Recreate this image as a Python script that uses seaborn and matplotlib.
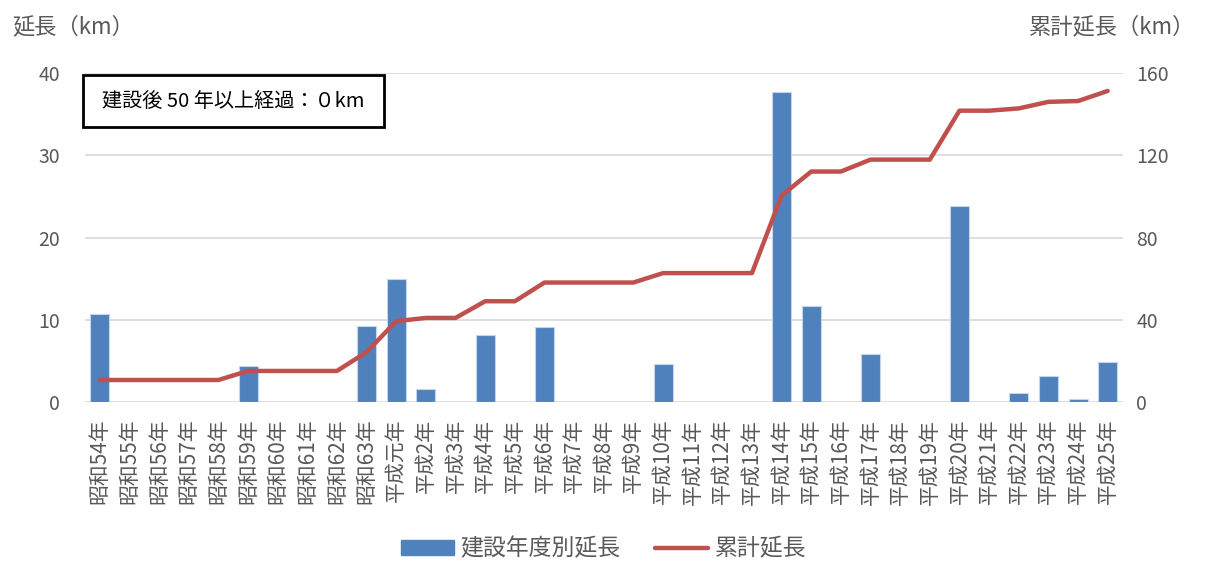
import matplotlib
matplotlib.use('Agg')
import matplotlib.pyplot as plt
import seaborn as sns
import pandas as pd
import numpy as np
from matplotlib.patches import Patch, Rectangle
from matplotlib.lines import Line2D

# categories
years = ['昭和54年', '昭和55年', '昭和56年', '昭和57年', '昭和58年', '昭和59年', '昭和60年',
         '昭和61年', '昭和62年', '昭和63年', '平成元年'] + ['平成%d年' % i for i in range(2, 26)]

# yearly length (km)
yearly = [10.7, 0, 0, 0, 0, 4.4, 0, 0, 0, 9.2,
          15.0, 1.6, 0, 8.1, 0, 9.1, 0, 0, 0, 4.6,
          0, 0, 0, 37.7, 11.7, 0, 5.8, 0, 0, 23.8,
          0, 1.1, 3.2, 0.4, 4.9]

# cumulative length (km)
cumulative = [10.7, 10.7, 10.7, 10.7, 10.7, 15.1, 15.1, 15.1, 15.1, 24.3,
              39.3, 40.9, 40.9, 49.0, 49.0, 58.1, 58.1, 58.1, 58.1, 62.7,
              62.7, 62.7, 62.7, 100.4, 112.1, 112.1, 117.9, 117.9, 117.9, 141.7,
              141.7, 142.8, 146.0, 146.4, 151.3]

df = pd.DataFrame({'year': years, 'yearly': yearly, 'cumulative': cumulative})

sns.set_style('white')
plt.rcParams['font.family'] = ['Noto Sans CJK JP', 'DejaVu Sans']

grey = '#595959'
bar_c = '#4F81BD'
line_c = '#C0504D'

fig = plt.figure(figsize=(12.07, 5.62), dpi=100)
ax = fig.add_axes([0.0704, 0.2847, 0.8596, 0.5853])

sns.barplot(data=df, x='year', y='yearly', color=bar_c, width=0.64, ax=ax,
            edgecolor='#c6d5ea', linewidth=0.8, saturation=1)
ax.set_ylim(0, 40)
ax.set_yticks([0, 10, 20, 30, 40])
ax.yaxis.grid(True, color='#d9d9d9', linewidth=1.2)
ax.set_axisbelow(True)
ax.set_xlabel('')
ax.set_ylabel('')
for s in ax.spines.values():
    s.set_visible(False)
ax.tick_params(axis='y', length=0, labelsize=14, labelcolor=grey, pad=18)
ax.tick_params(axis='x', length=0, labelsize=15, labelcolor=grey, pad=12)
ax.set_xticks(range(len(years)))
ax.set_xticklabels(years, rotation=90)
ax.set_xticks(np.arange(-0.5, len(years), 1), minor=True)
ax.tick_params(axis='x', which='minor', length=5, color='#d9d9d9', width=1)

ax2 = ax.twinx()
sns.lineplot(data=df, x='year', y='cumulative', color=line_c, linewidth=3.2, ax=ax2,
             sort=False, solid_capstyle='round')
ax2.set_ylim(0, 160)
ax2.set_yticks([0, 40, 80, 120, 160])
ax2.set_ylabel('')
ax2.set_xlabel('')
for s in ax2.spines.values():
    s.set_visible(False)
ax2.tick_params(axis='y', length=0, labelsize=14, labelcolor=grey, pad=10)
ax.set_xlim(-0.5, len(years) - 0.5)

fig.text(0.010, 0.952, '延長（km）', fontsize=16, color=grey, ha='left', va='center')
fig.text(0.990, 0.952, '累計延長（km）', fontsize=16, color=grey, ha='right', va='center')

# note box
fig.patches.append(Rectangle((0.0688, 0.774), 0.2494, 0.0925, transform=fig.transFigure,
                             facecolor='white', edgecolor='black', linewidth=2, zorder=5))
fig.text(0.1935, 0.820, '建設後 50 年以上経過：０km', fontsize=14.5, color='black',
         ha='center', va='center', zorder=6)

handles = [Patch(facecolor=bar_c, edgecolor=bar_c),
           Line2D([0], [0], color=line_c, linewidth=3.2, solid_capstyle='round')]
fig.legend(handles, ['建設年度別延長', '累計延長'], loc='center', bbox_to_anchor=(0.5, 0.023),
           ncol=2, frameon=False, fontsize=16.5, labelcolor=grey, handlelength=2.3,
           handleheight=0.6, columnspacing=1.5, handletextpad=0.3)

fig.savefig('out.png', dpi=100)
